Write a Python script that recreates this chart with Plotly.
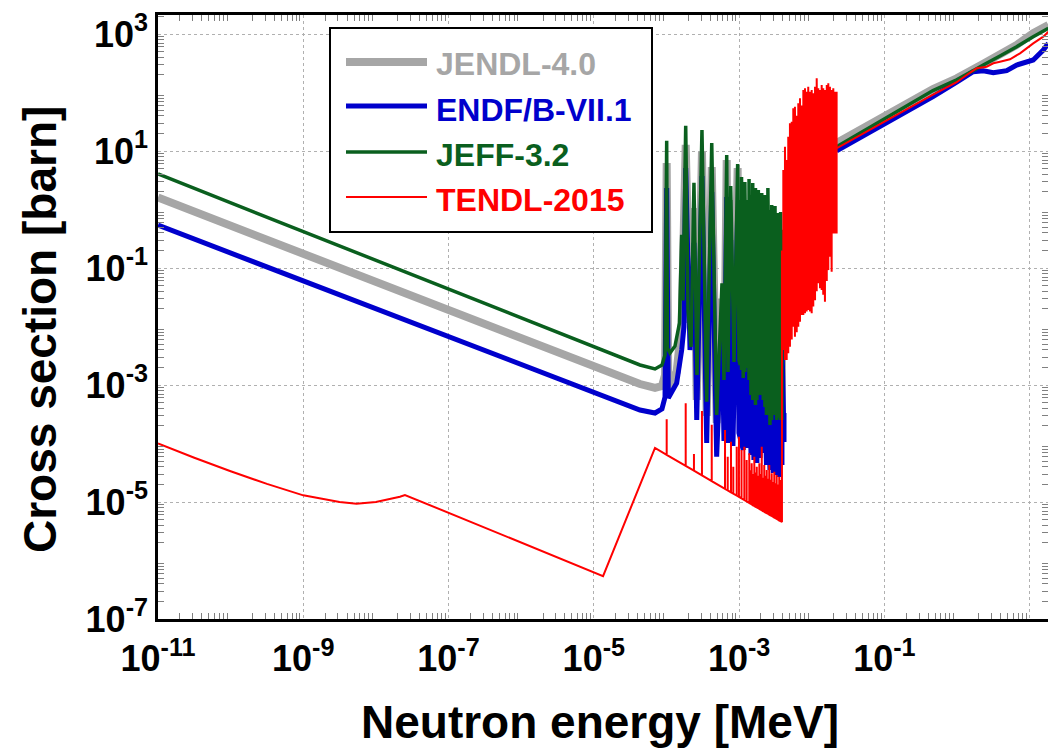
import plotly.graph_objects as go

# ---------------- data ----------------
# x: neutron energy [MeV], y: cross section [barn]

# JENDL-4.0 (gray)
jendl_low_E = [1e-11, 4.32e-5, 6.95e-5, 8.67e-5, 9.55e-5, 1.007e-4, 1.06e-4, 1.38e-4, 1.62e-4, 1.84e-4,
               2.11e-4, 2.39e-4, 2.61e-4, 3.08e-4, 3.58e-4, 4.20e-4, 4.91e-4, 5.81e-4, 6.19e-4, 6.75e-4,
               7.03e-4, 7.66e-4, 8.22e-4, 9.55e-4, 9.95e-4]
jendl_low_xs = [1.60, 1.04e-3, 8.9e-4, 9.6e-4, 1.48e-3, 6.24, 9.25e-4, 1.67e-3, 1.15e-2, 12.7,
                1.15e-2, 1.06, 5.55e-4, 9.61, 2.95e-4, 5.33, 2.24e-4, 3.0e-2, 5.5e-4, 7.02,
                6.0e-4, 1.45, 6.0e-4, 5.12, 9.0e-4]
jendl_forest_E = [1.14e-3, 1.28e-3, 1.46e-3, 1.60e-3, 1.76e-3, 1.94e-3, 2.15e-3, 2.38e-3, 2.66e-3,
                  2.95e-3, 3.29e-3, 3.59e-3, 3.89e-3]
jendl_forest_low = [8.22e-4, 1.22e-3, 4.21e-4, 4.21e-4, 3.45e-4, 5.12e-4, 3.45e-4, 1.91e-4, 1.29e-4,
                    2.33e-4, 1.57e-4, 1.77e-4, 1.57e-4]
jendl_forest_top = [0.81, 0.66, 0.66, 0.54, 0.45, 0.54, 0.45, 0.45, 0.30, 0.30, 0.30, 0.30, 0.30]
jendl_high_E = [2.20e-2, 0.467, 0.99, 2.30, 6.62, 11.2, 18.1]
jendl_high_xs = [13.7, 115, 175, 310, 650, 1030, 1425]

# ENDF/B-VII.1 (blue)
endf_low_E = [1e-11, 4.32e-5, 6.95e-5, 8.67e-5, 9.55e-5, 1.007e-4, 1.06e-4, 1.38e-4, 1.62e-4, 1.74e-4,
              1.84e-4, 2.11e-4, 2.39e-4, 2.61e-4, 3.08e-4, 3.58e-4, 4.20e-4, 4.91e-4, 5.81e-4, 6.19e-4,
              6.75e-4, 7.03e-4, 7.66e-4, 8.22e-4, 9.55e-4, 9.95e-4]
endf_low_xs = [0.54, 3.74e-4, 3.32e-4, 3.9e-4, 6.2e-4, 2.33, 6.0e-4, 1.07e-3, 3.96e-3, 9.8e-3,
               5.12, 3.96e-3, 0.27, 2.52e-4, 3.74, 1.02e-4, 1.99, 5.94e-5, 1.29e-2, 1.10e-4,
               1.64, 1.02e-4, 0.30, 9.06e-5, 0.87, 1.51e-4]
endf_forest_E = [1.14e-3, 1.28e-3, 1.46e-3, 1.60e-3, 1.76e-3, 1.94e-3, 2.15e-3, 2.38e-3, 2.66e-3,
                 2.95e-3, 3.29e-3, 3.59e-3, 3.89e-3, 4.15e-3]
endf_forest_low = [7.74e-5, 8.4e-5, 6.36e-5, 5.22e-5, 4.64e-5, 5.65e-5, 6.89e-5, 4.29e-5, 3.52e-5,
                   3.13e-5, 2.9e-5, 2.67e-5, 4.3e-5, 1.06e-4]
endf_forest_top = [0.028, 0.042, 0.019, 0.028, 0.013, 0.028, 0.019, 0.013, 8.7e-3, 0.013, 8.7e-3,
                   8.7e-3, 5.9e-3, 3.32e-4]
endf_high_E = [2.20e-2, 0.467, 0.99, 1.67, 2.30, 3.16, 4.83, 6.62, 11.2, 15.4, 18.1]
endf_high_xs = [10.1, 85, 150, 227, 236, 218, 236, 295, 360, 532, 693]

# JEFF-3.2 (green)
jeff_low_E = [1e-11, 4.32e-5, 6.95e-5, 8.67e-5, 9.55e-5, 1.007e-4, 1.03e-4, 1.12e-4, 1.31e-4, 1.51e-4,
              1.62e-4, 1.69e-4, 1.84e-4, 1.98e-4, 2.18e-4, 2.39e-4, 2.63e-4, 3.08e-4, 3.58e-4, 4.20e-4,
              4.91e-4, 5.81e-4, 6.19e-4, 6.75e-4, 7.03e-4, 7.66e-4, 8.51e-4, 9.55e-4, 9.95e-4]
jeff_low_xs = [4.05, 2.20e-3, 1.88e-3, 2.20e-3, 3.26e-3, 15.0, 4.28e-3, 3.52e-3, 4.64e-3, 1.15e-2,
               0.37, 2.8e-2, 27.1, 1.91e-2, 4.47e-3, 2.87, 1.48e-3, 22.9, 5.19e-4, 13.7,
               3.07e-4, 5.5e-2, 1.22e-3, 8.55, 1.67e-3, 2.52, 2.47e-3, 6.0, 2.67e-3]
jeff_forest_E = [1.03e-3, 1.08e-3, 1.14e-3, 1.20e-3, 1.28e-3, 1.37e-3, 1.46e-3, 1.54e-3, 1.60e-3,
                 1.68e-3, 1.76e-3, 1.84e-3, 1.94e-3, 2.05e-3, 2.15e-3, 2.27e-3, 2.38e-3, 2.49e-3,
                 2.66e-3, 2.81e-3, 2.95e-3, 3.12e-3, 3.29e-3, 3.43e-3, 3.59e-3, 3.73e-3, 3.89e-3]
jeff_forest_low = [2.20e-3, 1.80e-3, 1.32e-3, 1.67e-3, 1.95e-3, 1.22e-3, 6.75e-4, 5.55e-4, 6.75e-4,
                   4.55e-4, 5.55e-4, 6.75e-4, 8.22e-4, 6.75e-4, 5.55e-4, 4.21e-4, 3.07e-4, 3.74e-4,
                   2.07e-4, 2.52e-4, 3.74e-4, 3.07e-4, 2.52e-4, 2.73e-4, 2.84e-4, 2.52e-4, 2.52e-4]
jeff_forest_top = [1.45, 3.60, 1.77, 2.95, 1.45, 3.32, 1.77, 2.84, 1.45, 2.33, 1.19, 2.15, 1.19,
                   1.91, 1.19, 1.77, 1.19, 2.33, 0.98, 1.19, 0.81, 1.15, 0.66, 0.87, 0.66, 0.91, 0.45]
jeff_high_E = [2.20e-2, 0.467, 0.99, 2.30, 3.90, 6.62, 11.2, 18.1]
jeff_high_xs = [11.8, 108, 165, 295, 420, 607, 900, 1250]

# TENDL-2015 (red)
tendl_low_E = [1e-11, 3.16e-11, 1e-10, 3.16e-10, 1e-9, 3.16e-9, 5.4e-9, 1e-8, 2.14e-8, 2.51e-8,
               1.34e-5, 6.95e-5]
tendl_low_xs = [1.0e-4, 5.7e-5, 3.35e-5, 2.04e-5, 1.3e-5, 1.0e-5, 9.3e-6, 1.0e-5, 1.23e-5, 1.32e-5,
                5.4e-7, 8.4e-5]
tendl_spike_E = [1.007e-4, 1.84e-4, 2.39e-4, 3.08e-4, 4.20e-4, 6.40e-4, 6.97e-4, 7.73e-4, 8.32e-4,
                 9.27e-4, 9.95e-4, 1.08e-3, 1.18e-3, 1.27e-3, 1.38e-3, 1.43e-3, 1.49e-3, 1.55e-3,
                 1.62e-3, 1.68e-3, 1.75e-3, 1.82e-3, 1.90e-3, 1.97e-3, 2.05e-3, 2.13e-3, 2.22e-3,
                 2.31e-3, 2.40e-3, 2.50e-3, 2.60e-3, 2.70e-3, 2.81e-3, 2.93e-3, 3.05e-3, 3.17e-3,
                 3.29e-3, 3.43e-3, 3.57e-3, 3.68e-3, 3.78e-3]
tendl_spike_base = [6.4e-5, 4.14e-5, 3.43e-5, 2.85e-5, 2.28e-5, 1.68e-5, 1.58e-5, 1.46e-5, 1.39e-5,
                    1.29e-5, 1.22e-5, 1.15e-5, 1.08e-5, 1.02e-5, 9.62e-6, 9.4e-6, 9.10e-6, 8.8e-6,
                    8.57e-6, 8.3e-6, 8.11e-6, 7.9e-6, 7.65e-6, 7.4e-6, 7.24e-6, 7.0e-6, 6.82e-6,
                    6.6e-6, 6.46e-6, 6.3e-6, 6.08e-6, 5.9e-6, 5.76e-6, 5.6e-6, 5.42e-6, 5.3e-6,
                    5.13e-6, 5.0e-6, 4.83e-6, 4.75e-6, 4.65e-6]
tendl_spike_top = [2.6e-4, 4.9e-4, 6.6e-5, 3.6e-4, 2.1e-4, 1.70e-4, 5.94e-5, 1.07e-4, 4.0e-5,
                   8.8e-5, 1.31e-4, 7.74e-5, 8.8e-5, 5.22e-5, 6.8e-5, 3.5e-5, 4.6e-5, 3.0e-5,
                   5.94e-5, 3.2e-5, 4.0e-5, 2.8e-5, 4.6e-5, 3.0e-5, 8.8e-5, 2.6e-5, 4.3e-5,
                   2.8e-5, 3.52e-5, 2.5e-5, 4.3e-5, 2.4e-5, 3.1e-5, 2.2e-5, 3.3e-5, 2.1e-5,
                   2.9e-5, 2.0e-5, 2.7e-5, 1.9e-5, 2.38e-5]
tendl_forest_E = [3.89e-3, 4.06e-3, 4.28e-3, 4.52e-3, 4.75e-3, 5.01e-3, 5.30e-3, 5.57e-3, 5.87e-3,
                  6.21e-3, 6.53e-3, 6.89e-3, 7.28e-3, 7.66e-3, 8.07e-3, 8.51e-3, 8.95e-3, 9.46e-3,
                  9.98e-3, 1.05e-2, 1.11e-2, 1.17e-2, 1.23e-2, 1.30e-2, 1.37e-2, 1.44e-2, 1.52e-2,
                  1.61e-2, 1.69e-2, 1.78e-2, 1.88e-2, 1.98e-2, 2.09e-2, 2.20e-2]
tendl_forest_low = [4.55e-6, 3.96e-3, 2.67e-3, 2.67e-3, 3.5e-3, 4.52e-3, 6.0e-3, 9.9e-3, 6.7e-3,
                    8.0e-3, 9.9e-3, 1.2e-2, 1.57e-2, 1.57e-2, 1.68e-2, 1.8e-2, 1.91e-2, 1.8e-2,
                    1.68e-2, 2.2e-2, 2.8e-2, 4.0e-2, 5.47e-2, 4.5e-2, 4.2e-2, 3.5e-2, 2.65e-2,
                    6.0e-2, 9.2e-2, 0.156, 8.65e-2, 0.39, 0.39, 0.39]
tendl_forest_top = [0.2, 4.73, 11.8, 7.0, 17.5, 29.8, 31.7, 53.7, 57.2, 40.0, 65.3, 79.6, 60.0,
                    110, 118, 103, 126, 103, 110, 96.8, 126, 175, 118, 110, 134, 118, 110, 134,
                    144, 126, 110, 118, 103, 103]
tendl_high_E = [2.20e-2, 0.467, 0.99, 1.36, 1.86, 2.56, 3.16, 3.90, 5.36, 7.36, 11.2, 15.4, 18.1]
tendl_high_xs = [11.1, 92, 150, 199, 260, 276, 316, 336, 370, 468, 693, 900, 1094]

# axis ticks (labelled decades; the decades in between only carry a grid line)
x_tick_vals = [1e-11, 1e-9, 1e-7, 1e-5, 1e-3, 1e-1, 1e1]
x_tick_text = ["10<sup>-11</sup>", "10<sup>-9</sup>", "10<sup>-7</sup>", "10<sup>-5</sup>",
               "10<sup>-3</sup>", "10<sup>-1</sup>", "10<sup>1</sup>"]
x_grid_vals = [1e-10, 1e-8, 1e-6, 1e-4, 1e-2, 1e0]
y_tick_vals = [1e-7, 1e-5, 1e-3, 1e-1, 1e1, 1e3]
y_tick_text = ["10<sup>-7</sup>", "10<sup>-5</sup>", "10<sup>-3</sup>", "10<sup>-1</sup>",
               "10<sup>1</sup>", "10<sup>3</sup>"]
y_grid_vals = [1e-6, 1e-4, 1e-2, 1e0, 1e2]

series_names = ["JENDL-4.0", "ENDF/B-VII.1", "JEFF-3.2", "TENDL-2015"]
series_colors = ["#A6A6A6", "#0000CC", "#0A5F1E", "#FF0000"]
series_widths = [8, 5, 3.5, 2]


# ---------------- helpers to assemble the line paths ----------------
def forest(E, low, top):
    xs, ys = [], []
    for e, lo, hi in zip(E, low, top):
        xs += [e, e]
        ys += [lo, hi]
    return xs, ys


def spikes(E, base, top):
    xs, ys = [], []
    for e, b, t in zip(E, base, top):
        xs += [e, e, e]
        ys += [b, t, b]
    return xs, ys


def assemble(low_E, low_xs, fE, flo, fhi, hE, hxs):
    fx, fy = forest(fE, flo, fhi)
    return (list(low_E) + fx + [None] + list(hE),
            list(low_xs) + fy + [None] + list(hxs))


gx, gy = assemble(jendl_low_E, jendl_low_xs, jendl_forest_E, jendl_forest_low, jendl_forest_top,
                  jendl_high_E, jendl_high_xs)
bx, by = assemble(endf_low_E, endf_low_xs, endf_forest_E, endf_forest_low, endf_forest_top,
                  endf_high_E, endf_high_xs)
jx, jy = assemble(jeff_low_E, jeff_low_xs, jeff_forest_E, jeff_forest_low, jeff_forest_top,
                  jeff_high_E, jeff_high_xs)
sx, sy = spikes(tendl_spike_E, tendl_spike_base, tendl_spike_top)
fx, fy = forest(tendl_forest_E, tendl_forest_low, tendl_forest_top)
rx = list(tendl_low_E) + sx + fx + list(tendl_high_E)
ry = list(tendl_low_xs) + sy + fy + list(tendl_high_xs)

fig = go.Figure()
for (x, y), name, col, w in zip([(gx, gy), (bx, by), (jx, jy), (rx, ry)],
                                 series_names, series_colors, series_widths):
    fig.add_trace(go.Scatter(x=x, y=y, mode="lines", name=name, connectgaps=False,
                             line=dict(color=col, width=w, simplify=False)))

# ---------------- layout ----------------
W, H = 1048, 749
L, R, T, B = 158, 0, 15, 130
pw, ph = W - L - R, H - T - B
X_RANGE = [-11, 1.2525]
Y_RANGE = [-7, 3.325]


def px2paper(px, py):
    return (px - L) / pw, (H - B - py) / ph


tick_font = dict(family="Liberation Sans, Arial, sans-serif", size=36, color="black", weight="bold")
minor_x = [m * 10.0 ** k for k in range(-11, 2) for m in range(2, 10)]
minor_y = [m * 10.0 ** k for k in range(-7, 4) for m in range(2, 10)]

grid = dict(showgrid=True, gridcolor="#b0b0b0", griddash="dot", gridwidth=1)
common = dict(type="log", showline=True, linecolor="black", linewidth=2.5, mirror="ticks", ticks="",
              zeroline=False, tickmode="array", tickfont=tick_font, **grid)
fig.update_layout(
    xaxis=dict(range=X_RANGE, tickvals=x_tick_vals, ticktext=x_tick_text, ticklabelstandoff=6,
               minor=dict(tickmode="array", tickvals=minor_x, ticks="inside", ticklen=6,
                          tickcolor="#808080", tickwidth=1, showgrid=False), **common),
    yaxis=dict(range=Y_RANGE, tickvals=y_tick_vals, ticktext=y_tick_text,
               minor=dict(tickmode="array", tickvals=minor_y, ticks="inside", ticklen=6,
                          tickcolor="#808080", tickwidth=1, showgrid=False), **common),
    # overlay axes that only add the grid lines of the unlabelled decades
    xaxis2=dict(type="log", overlaying="x", anchor="y", range=X_RANGE, tickmode="array",
                tickvals=x_grid_vals, showticklabels=False, ticks="", showline=False,
                zeroline=False, **grid),
    yaxis2=dict(type="log", overlaying="y", anchor="x", range=Y_RANGE, tickmode="array",
                tickvals=y_grid_vals, showticklabels=False, ticks="", showline=False,
                zeroline=False, **grid),
)

title_font = dict(family="Liberation Sans, Arial, sans-serif", size=46, color="black", weight="bold")
ax_, ay_ = px2paper(600, 722)
bx_, by_ = px2paper(40, 330)
annotations = [
    dict(text="Neutron energy [MeV]", x=ax_, y=ay_, xref="paper", yref="paper", showarrow=False,
         xanchor="center", yanchor="middle", font=title_font),
    dict(text="Cross section [barn]", x=bx_, y=by_, xref="paper", yref="paper", showarrow=False,
         xanchor="center", yanchor="middle", textangle=-90, font=title_font),
]

# legend box drawn by hand (long line samples as in the reference)
shapes = []
x0, y0 = px2paper(330, 232)
x1, y1 = px2paper(652, 28)
shapes.append(dict(type="rect", xref="paper", yref="paper", x0=x0, y0=y0, x1=x1, y1=y1,
                   line=dict(color="black", width=2), fillcolor="white", layer="above"))
leg_rows = [62, 106, 152, 197]
text_rows = [64, 110, 155, 200]
for name, col, w, ly, ty in zip(series_names, series_colors, series_widths, leg_rows, text_rows):
    lx0, lyp = px2paper(346, ly)
    lx1, _ = px2paper(427, ly)
    shapes.append(dict(type="line", xref="paper", yref="paper", x0=lx0, x1=lx1, y0=lyp, y1=lyp,
                       line=dict(color=col, width=w), layer="above"))
    tx, typ = px2paper(434, ty)
    annotations.append(dict(text=name, x=tx, y=typ, xref="paper", yref="paper", showarrow=False,
                            xanchor="left", yanchor="middle",
                            font=dict(family="Liberation Sans, Arial, sans-serif", size=32,
                                      color=col, weight="bold")))

fig.update_layout(width=W, height=H, margin=dict(l=L, r=R, t=T, b=B, autoexpand=False),
                  paper_bgcolor="white", plot_bgcolor="white", showlegend=False,
                  annotations=annotations, shapes=shapes)

fig.write_html("out.html")
